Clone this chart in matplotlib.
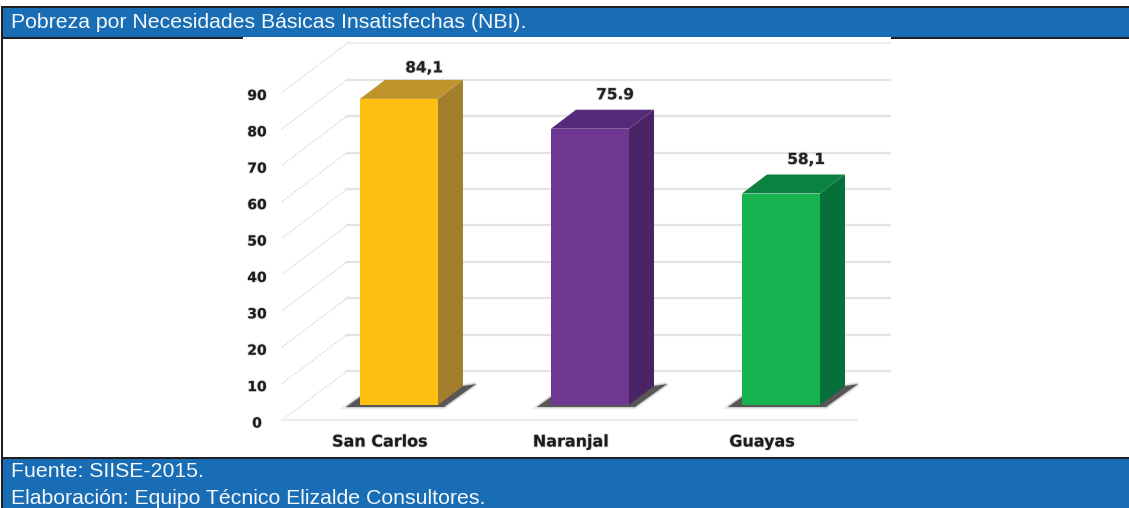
import matplotlib
matplotlib.use('Agg')
import matplotlib.pyplot as plt
import matplotlib.patheffects as pe
from matplotlib.patches import Polygon, Rectangle

plt.rcParams['font.family'] = ['Liberation Sans', 'DejaVu Sans']

categorias = ['San Carlos', 'Naranjal', 'Guayas']
valores = [84.1, 75.9, 58.1]
etiquetas = ['84,1', '75.9', '58,1']
marcas = [0, 10, 20, 30, 40, 50, 60, 70, 80, 90]
titulo = 'Pobreza por Necesidades Básicas Insatisfechas (NBI).'
fuente = 'Fuente: SIISE-2015.'
elaboracion = 'Elaboración: Equipo Técnico Elizalde Consultores.'

frente = ['#fdc010', '#6f3791', '#17b351']
lado = ['#a37e2c', '#4a2566', '#07703a']
tapa = ['#c0942c', '#552a78', '#0c8240']

W, H = 1129, 508
AZUL = '#186db5'
NEGRO = '#231f20'

fig = plt.figure(figsize=(W / 100, H / 100), dpi=100, facecolor='white')

# fondo: cabecera y pie en pixeles
bg = fig.add_axes([0, 0, 1, 1])
bg.set_xlim(0, W)
bg.set_ylim(H, 0)
bg.axis('off')
bg.add_patch(Rectangle((1, 6), W, 33, fc=NEGRO, ec='none'))
bg.add_patch(Rectangle((3, 8), W, 29, fc=AZUL, ec='none'))
bg.add_patch(Rectangle((1, 39), 2, 420, fc=NEGRO, ec='none'))
bg.add_patch(Rectangle((1, 457), W, 51, fc=NEGRO, ec='none'))
bg.add_patch(Rectangle((3, 459), W, 49, fc=AZUL, ec='none'))
bg.add_patch(Rectangle((243, 37), 648, 2, fc='white', ec='none'))
bg.text(11, 22.5, titulo, color='#f4f8fb', fontsize=15.35, va='center')
bg.text(11, 471.5, fuente, color='#f4f8fb', fontsize=15.35, va='center')
bg.text(11, 498.5, elaboracion, color='#f4f8fb', fontsize=15.35, va='center')

# grafico: y en valores, x en categorias
PX_Y = 3.64
PX_X = 191.0
Y0 = 405
X0 = 399
ax_top, ax_bot = 39, 457
ax_l, ax_r = 243, 891
ax = fig.add_axes([ax_l / W, 1 - ax_bot / H, (ax_r - ax_l) / W, (ax_bot - ax_top) / H])
ax.set_xlim((ax_l - X0) / PX_X, (ax_r - X0) / PX_X)
ax.set_ylim((Y0 - ax_bot) / PX_Y, (Y0 - ax_top) / PX_Y)
ax.axis('off')

ancho = 78 / PX_X
fx = 25 / PX_X
fy = 19 / PX_Y
pared_x0 = (282 - X0) / PX_X
pared_x1 = (347 - X0) / PX_X
pared_fin = (891 - X0) / PX_X
suelo_fin = (857 - X0) / PX_X
frente_y = -15 / PX_Y
fondo_y = 34 / PX_Y

# el original esta borroso, un trazo gris suave lo imita
borroso = [pe.withStroke(linewidth=1.2, foreground='#bbbbbb', alpha=0.6)]

# separacion de cada etiqueta sobre su barra, en pixeles
sep_etiqueta = [12, 15, 15]

for m in marcas:
    color = '#eeeeee' if m == 90 else '#e3e3e3'
    ax.plot([pared_x1, pared_fin], [m + fondo_y] * 2, color=color, lw=1.6, zorder=1)
    ax.plot([pared_x0, pared_x1], [m + frente_y, m + fondo_y], color='#dcdcdc', lw=0.9,
            ls=(0, (1.5, 1)), zorder=1)
    ax.text((257 - X0) / PX_X, m + frente_y - 3.5 / PX_Y, str(m), ha='center', va='center',
            fontsize=10, fontweight='bold', color='#1c1c1c', family='DejaVu Sans',
            path_effects=borroso)
ax.plot([pared_x0, suelo_fin], [frente_y, frente_y], color='#ececec', lw=1.6, zorder=1)

for i, v in enumerate(valores):
    izq = i - ancho / 2
    der = izq + ancho
    # sombra en el suelo, con bordes difusos
    sombra = [(izq - 14 / PX_X, -2.0 / PX_Y), (izq, 8 / PX_Y), (der + fx, fy),
              (der + 38 / PX_X, 21 / PX_Y), (der + 6 / PX_X, -2.0 / PX_Y)]
    for lw, alfa in [(3.0, 0.12), (1.5, 0.2)]:
        ax.add_patch(Polygon(sombra, closed=True, fc='none', ec='#666666', lw=lw,
                             alpha=alfa, zorder=2))
    ax.add_patch(Polygon(sombra, closed=True, fc='#575757', ec='none', zorder=2))
    ax.add_patch(Rectangle((izq, 0), ancho, v, fc=frente[i], ec='none', zorder=4))
    ax.add_patch(Polygon([(der, 0), (der + fx, fy), (der + fx, v + fy), (der, v)],
                         closed=True, fc=lado[i], ec='none', zorder=3))
    ax.add_patch(Polygon([(izq, v), (izq + fx, v + fy), (der + fx, v + fy), (der, v)],
                         closed=True, fc=tapa[i], ec='none', zorder=3))
    ax.text(i + 25 / PX_X, v + fy + sep_etiqueta[i] / PX_Y, etiquetas[i], ha='center', va='center',
            fontsize=11, fontweight='bold', color='#222222', family='DejaVu Sans',
            path_effects=borroso, zorder=5)
    ax.text(i - 19 / PX_X, (Y0 - 442) / PX_Y, categorias[i], ha='center', va='center',
            fontsize=11.5, fontweight='bold', color='#1c1c1c', family='DejaVu Sans',
            path_effects=borroso, zorder=5)

fig.savefig('out.png', dpi=100, facecolor='white')
